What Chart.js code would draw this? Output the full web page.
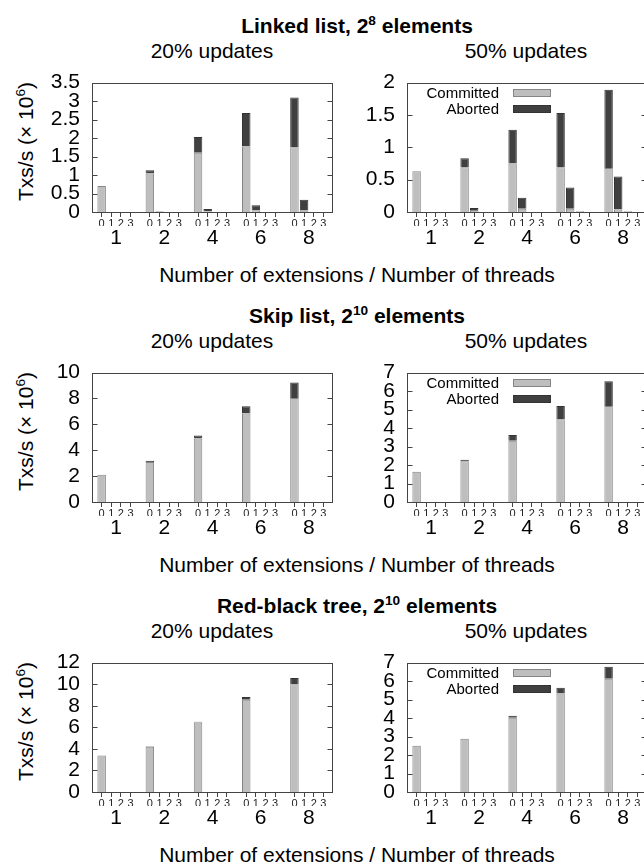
<!DOCTYPE html>
<html>
<head>
<meta charset="utf-8">
<script src="https://cdn.jsdelivr.net/npm/chart.js@4.4.1/dist/chart.umd.min.js"></script>
<style>
body { margin: 0; width: 644px; height: 864px; overflow: hidden; background: #fff; position: relative;
       font-family: "Liberation Sans", Arial, Helvetica, sans-serif; color: #000; }
.txt { position: absolute; white-space: nowrap; text-align: center; font-size: 21px; line-height: 21px; }
.bold { font-weight: bold; }
.txt sup { font-size: 0.65em; vertical-align: 0; position: relative; top: -0.6em; line-height: 0; }
.ylab { width: 170px; transform: rotate(-90deg); }
canvas { position: absolute; }
</style>
</head>
<body>

<div class="txt bold" style="left:157px;width:400px;top:15px">Linked list, 2<sup>8</sup> elements</div>
<div class="txt" style="left:112px;width:200px;top:40px">20% updates</div>
<div class="txt" style="left:426px;width:200px;top:40px">50% updates</div>
<div class="txt ylab" style="left:-60px;top:131px">Txs/s (&times; 10<sup>6</sup>)</div>
<div class="txt" style="left:107px;width:500px;top:264px">Number of extensions / Number of threads</div>
<canvas id="ll20" width="296" height="198" style="left:40px;top:58px"></canvas>
<canvas id="ll50" width="295" height="198" style="left:355px;top:58px"></canvas>

<div class="txt bold" style="left:157px;width:400px;top:305px">Skip list, 2<sup>10</sup> elements</div>
<div class="txt" style="left:112px;width:200px;top:330px">20% updates</div>
<div class="txt" style="left:426px;width:200px;top:330px">50% updates</div>
<div class="txt ylab" style="left:-60px;top:421px">Txs/s (&times; 10<sup>6</sup>)</div>
<div class="txt" style="left:107px;width:500px;top:554px">Number of extensions / Number of threads</div>
<canvas id="sl20" width="296" height="198" style="left:40px;top:348px"></canvas>
<canvas id="sl50" width="295" height="198" style="left:355px;top:348px"></canvas>

<div class="txt bold" style="left:157px;width:400px;top:595px">Red-black tree, 2<sup>10</sup> elements</div>
<div class="txt" style="left:112px;width:200px;top:620px">20% updates</div>
<div class="txt" style="left:426px;width:200px;top:620px">50% updates</div>
<div class="txt ylab" style="left:-60px;top:711px">Txs/s (&times; 10<sup>6</sup>)</div>
<div class="txt" style="left:107px;width:500px;top:844px">Number of extensions / Number of threads</div>
<canvas id="rb20" width="296" height="198" style="left:40px;top:638px"></canvas>
<canvas id="rb50" width="295" height="198" style="left:355px;top:638px"></canvas>

<script>
// groups on the x axis: number of threads, and inside each group the number of extensions
var threads = ['1', '2', '4', '6', '8'];
var extensions = ['0', '1', '2', '3'];

// values in 10^6 txs/s, ordered thread group by thread group, extensions 0..3 inside
var ll20Committed = [0.70, 0, 0, 0,  1.04, 0.01, 0, 0,  1.60, 0.02, 0, 0,  1.77, 0.04, 0, 0,  1.75, 0.05, 0, 0];
var ll20Aborted   = [0,    0, 0, 0,  0.09, 0.01, 0, 0,  0.43, 0.06, 0, 0,  0.91, 0.14, 0, 0,  1.35, 0.28, 0, 0];
var ll50Committed = [0.63, 0, 0, 0,  0.69, 0.03, 0, 0,  0.75, 0.05, 0, 0,  0.69, 0.05, 0.01, 0,  0.68, 0.04, 0.01, 0];
var ll50Aborted   = [0,    0, 0, 0,  0.14, 0.03, 0, 0,  0.52, 0.17, 0, 0,  0.84, 0.33, 0, 0,     1.21, 0.51, 0, 0];

var sl20Committed = [2.10, 0, 0, 0,  3.10, 0, 0, 0,  4.90, 0, 0, 0,  6.84, 0, 0, 0,  8.04, 0, 0, 0];
var sl20Aborted   = [0,    0, 0, 0,  0.08, 0, 0, 0,  0.24, 0, 0, 0,  0.55, 0, 0, 0,  1.19, 0, 0, 0];
var sl50Committed = [1.64, 0, 0, 0,  2.20, 0, 0, 0,  3.32, 0, 0, 0,  4.47, 0, 0, 0,  5.19, 0, 0, 0];
var sl50Aborted   = [0,    0, 0, 0,  0.08, 0, 0, 0,  0.31, 0, 0, 0,  0.72, 0, 0, 0,  1.34, 0, 0, 0];

var rb20Committed = [3.39, 0, 0, 0,  4.20, 0, 0, 0,  6.45, 0, 0, 0,  8.56, 0, 0, 0,  9.99, 0, 0, 0];
var rb20Aborted   = [0,    0, 0, 0,  0.05, 0, 0, 0,  0.07, 0, 0, 0,  0.25, 0, 0, 0,  0.58, 0, 0, 0];
var rb50Committed = [2.50, 0, 0, 0,  2.88, 0, 0, 0,  4.02, 0, 0, 0,  5.33, 0, 0, 0,  6.13, 0.02, 0, 0];
var rb50Aborted   = [0,    0, 0, 0,  0,    0, 0, 0,  0.10, 0, 0, 0,  0.31, 0, 0, 0,  0.65, 0, 0, 0];

// y axis ranges [max, step]
var ll20Range = [3.5, 0.5];
var ll50Range = [2, 0.5];
var sl20Range = [10, 2];
var sl50Range = [7, 1];
var rb20Range = [12, 2];
var rb50Range = [7, 1];

var slotsPerGroup = extensions.length + 1;
var axisMax = threads.length * slotsPerGroup;

// bar i sits in slot (group * 5 + ext + 1); the fifth slot of a group stays empty
function slotOf(i) {
    return Math.floor(i / extensions.length) * slotsPerGroup + (i % extensions.length) + 1;
}
var barSlots = [];
for (var i = 0; i < threads.length * extensions.length; i++) barSlots.push(slotOf(i));
var groupCenters = threads.map(function (t, g) { return g * slotsPerGroup + (extensions.length + 1) / 2; });

var frameColor = '#444';
var fontFamily = '"Liberation Sans", Arial, sans-serif';

// gnuplot style border with inward y tics on both sides
var framePlugin = {
    id: 'frame',
    afterDatasetsDraw: function (chart) {
        var a = chart.chartArea, ctx = chart.ctx, ys = chart.scales.y;
        var l = Math.round(a.left) + 0.5, r = Math.round(a.right) - 0.5;
        var t = Math.round(a.top) + 0.5, b = Math.round(a.bottom) + 0.5;
        ctx.save();
        ctx.strokeStyle = frameColor;
        ctx.lineWidth = 1;
        ctx.strokeRect(l, t, r - l, b - t);
        ys.ticks.forEach(function (tk) {
            var py = Math.round(ys.getPixelForValue(tk.value)) + 0.5;
            ctx.beginPath();
            ctx.moveTo(l, py); ctx.lineTo(l + 5, py);
            ctx.moveTo(r, py); ctx.lineTo(r - 5, py);
            ctx.stroke();
        });
        ctx.restore();
    }
};

// key in the top left corner: label right aligned, sample box on its right
var keyPlugin = {
    id: 'key',
    afterDraw: function (chart, args, opts) {
        if (!opts.display) return;
        var a = chart.chartArea, ctx = chart.ctx;
        ctx.save();
        ctx.font = '15px ' + fontFamily;
        ctx.textAlign = 'right';
        ctx.textBaseline = 'middle';
        chart.data.datasets.forEach(function (ds, k) {
            var cy = a.top + 10.5 + k * 15.5;
            ctx.fillStyle = '#000';
            ctx.fillText(ds.label, a.left + 92, cy + 1);
            ctx.fillStyle = ds.backgroundColor;
            ctx.fillRect(a.left + 106, Math.round(cy - 4), 38, 8);
            ctx.strokeStyle = ds.borderColor;
            ctx.lineWidth = 1;
            ctx.strokeRect(a.left + 106.5, Math.round(cy - 4) + 0.5, 37, 7);
        });
        ctx.restore();
    }
};

function toPoints(values) {
    return values.map(function (v, i) { return { x: barSlots[i], y: v }; });
}

function trimNumber(v) {
    return String(+(+v).toFixed(2));
}

function makePanel(id, committed, aborted, range, withKey) {
    var ctx = document.getElementById(id).getContext('2d');
    return new Chart(ctx, {
        type: 'bar',
        data: {
            datasets: [{
                label: 'Committed',
                data: toPoints(committed),
                backgroundColor: '#bebebe',
                borderColor: '#858585',
                borderWidth: 1,
                barPercentage: 0.88,
                categoryPercentage: 1
            },
            {
                label: 'Aborted',
                data: toPoints(aborted),
                backgroundColor: '#404040',
                borderColor: '#333333',
                borderWidth: 1,
                barPercentage: 0.88,
                categoryPercentage: 1
            }]
        },
        options: {
            responsive: false,
            animation: false,
            layout: { padding: { top: 14, right: 3, bottom: 0, left: 0 } },
            plugins: {
                legend: { display: false },
                tooltip: { enabled: false },
                key: { display: withKey }
            },
            scales: {
                x: {
                    type: 'linear',
                    min: 0,
                    max: axisMax,
                    offset: false,
                    stacked: true,
                    weight: 0,
                    afterBuildTicks: function (s) {
                        s.ticks = barSlots.map(function (v) { return { value: v }; });
                    },
                    afterFit: function (s) { s.height = 14; },
                    ticks: {
                        autoSkip: false,
                        maxRotation: 0,
                        padding: 0,
                        color: '#222',
                        font: { size: 11, family: fontFamily },
                        callback: function (v) { return extensions[(v - 1) % slotsPerGroup]; }
                    },
                    grid: { offset: false, drawOnChartArea: false, drawTicks: true, tickLength: 5, color: frameColor },
                    border: { display: false }
                },
                x2: {
                    type: 'linear',
                    position: 'bottom',
                    min: 0,
                    max: axisMax,
                    offset: false,
                    weight: 1,
                    afterBuildTicks: function (s) {
                        s.ticks = groupCenters.map(function (v) { return { value: v }; });
                    },
                    afterFit: function (s) { s.height = 30; },
                    ticks: {
                        autoSkip: false,
                        maxRotation: 0,
                        padding: 0,
                        color: '#000',
                        font: { size: 21, family: fontFamily },
                        callback: function (v) { return threads[Math.round((v - 2.5) / slotsPerGroup)]; }
                    },
                    grid: { offset: false, display: false, drawTicks: false },
                    border: { display: false }
                },
                y: {
                    min: 0,
                    max: range[0],
                    stacked: true,
                    afterFit: function (s) { s.width = 52; },
                    ticks: {
                        stepSize: range[1],
                        autoSkip: false,
                        padding: 12,
                        color: '#000',
                        font: { size: 21, family: fontFamily },
                        callback: trimNumber
                    },
                    grid: { display: false, drawTicks: false },
                    border: { display: false }
                }
            }
        },
        plugins: [framePlugin, keyPlugin]
    });
}

makePanel('ll20', ll20Committed, ll20Aborted, ll20Range, false);
makePanel('ll50', ll50Committed, ll50Aborted, ll50Range, true);
makePanel('sl20', sl20Committed, sl20Aborted, sl20Range, false);
makePanel('sl50', sl50Committed, sl50Aborted, sl50Range, true);
makePanel('rb20', rb20Committed, rb20Aborted, rb20Range, false);
makePanel('rb50', rb50Committed, rb50Aborted, rb50Range, true);
</script>
</body>
</html>
